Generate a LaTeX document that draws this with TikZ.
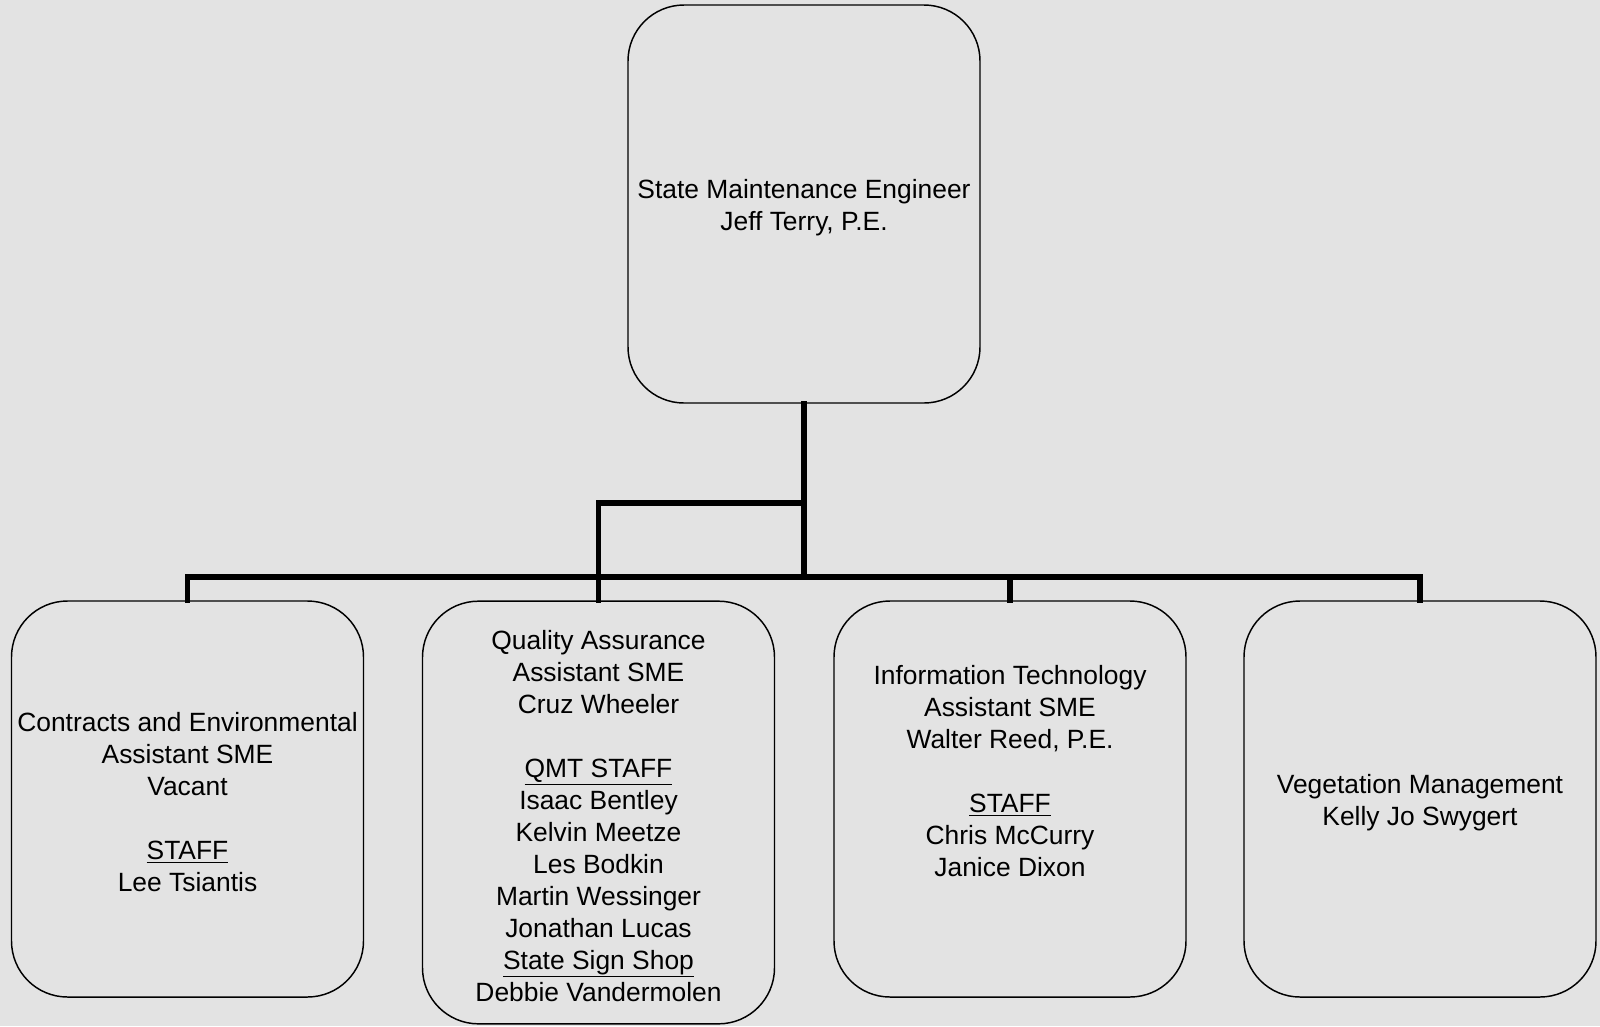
\documentclass[tikz,border=0pt]{standalone}
\usepackage{fontspec}
\setmainfont{Liberation Sans}
\definecolor{bgcol}{HTML}{E3E3E3}
\tikzset{
  orgbox/.style={draw=black, line width=1.1pt, rounded corners=42pt,
    inner sep=0pt, minimum width=264pt, minimum height=297pt},
  orgtext/.style={align=center, inner sep=0pt, yshift=-2.6pt,
    font=\fontsize{19.8pt}{24pt}\selectfont},
  conn/.style={draw=black, line width=3.8pt, line join=miter, line cap=rect}
}
\begin{document}
\begin{tikzpicture}[x=0.75pt, y=-0.75pt]
\useasboundingbox (0,0) rectangle (1600,1026);
\fill[bgcol] (0,0) rectangle (1600,1026);
\node[orgbox, minimum height=298.5pt] (top) at (804,204) {};
\node[orgtext] (topt) at (top.center) {State Maintenance Engineer\\Jeff Terry, P.E.};
\node[orgbox] (box1) at (187.5,799) {};
\node[orgtext] (box1t) at (box1.center) {Contracts and Environmental\\Assistant SME\\Vacant\\[24pt]\underline{STAFF}\\Lee Tsiantis};
\node[orgbox, minimum height=317pt] (box2) at (598.5,812.5) {};
\node[orgtext] (box2t) at (box2.center) {Quality Assurance\\Assistant SME\\Cruz Wheeler\\[24pt]\underline{QMT STAFF}\\Isaac Bentley\\Kelvin Meetze\\Les Bodkin\\Martin Wessinger\\Jonathan Lucas\\\underline{State Sign Shop}\\Debbie Vandermolen};
\node[orgbox] (box3) at (1010,799) {};
\node[orgtext] (box3t) at (1010,768) {Information Technology\\Assistant SME\\Walter Reed, P.E.\\[24pt]\underline{STAFF}\\Chris McCurry\\Janice Dixon};
\node[orgbox] (box4) at (1420,799) {};
\node[orgtext] (box4t) at (box4.center) {Vegetation Management\\Kelly Jo Swygert};
\coordinate (j) at (804,577);
\coordinate (k) at (804,503);
\draw[conn] (top.south) -- (j);
\draw[conn] (k) -| (box2.north);
\draw[conn] (box1.north) |- (j);
\draw[conn] (box4.north) |- (j);
\draw[conn] (box2.north) -- (box2.north |- j);
\draw[conn] (box3.north) -- (box3.north |- j);
\end{tikzpicture}
\end{document}
